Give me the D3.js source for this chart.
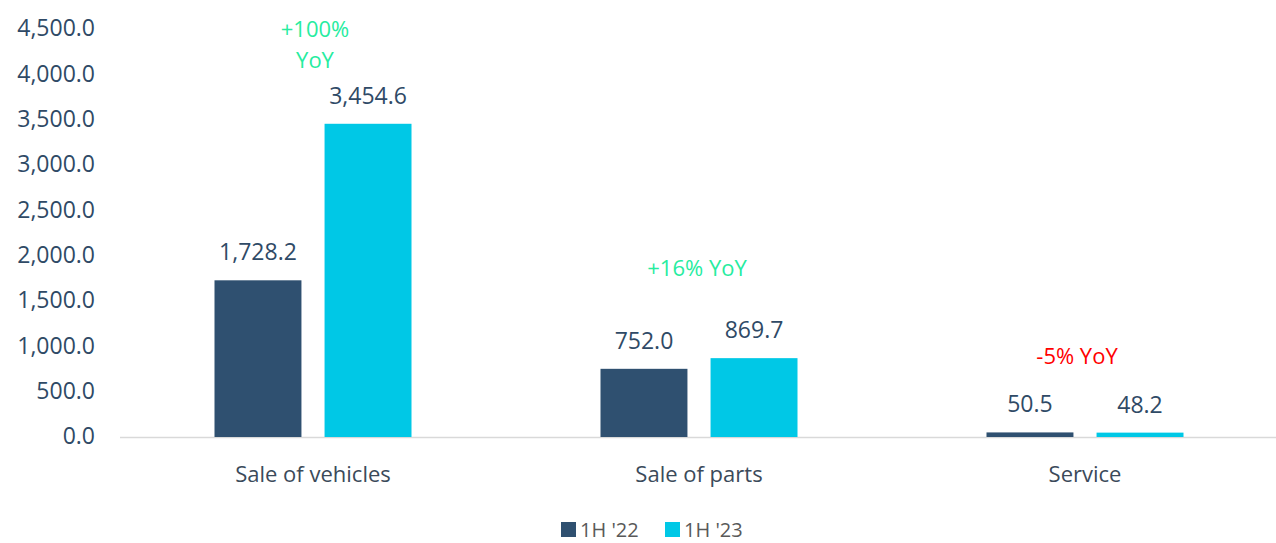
<!DOCTYPE html>
<html>
<head>
<meta charset="utf-8">
<script src="https://cdn.jsdelivr.net/npm/d3@7"></script>
<style>
  body { margin: 0; background: #fff; }
  svg { display: block; }
  svg text { font-family: "Open Sans", "Noto Sans", sans-serif; }
</style>
</head>
<body>
<svg id="chart"></svg>
<script>
const categories = ['Sale of vehicles', 'Sale of parts', 'Service'];
const series = ["1H '22", "1H '23"];
const values22 = [1728.2, 752.0, 50.5];
const values23 = [3454.6, 869.7, 48.2];
const yoyLabels = [['+100%', 'YoY'], ['+16% YoY'], ['-5% YoY']];
const yoyColors = ['#27ec9f', '#27ec9f', '#ff0000'];
const yTicks = [0, 500, 1000, 1500, 2000, 2500, 3000, 3500, 4000, 4500];

const width = 1276, height = 543;
const margin = {top: 29, right: 0, bottom: 106, left: 120};
const colors = ['#2f5070', '#00c8e6'];

const svg = d3.select('#chart').attr('width', width).attr('height', height);

const x0 = d3.scaleBand().domain(categories).range([margin.left, 1278]).paddingInner(0).paddingOuter(0);
const x1 = d3.scaleBand().domain(series).range([94.5, 386 - 94.5]).paddingInner(0.21);
const y = d3.scaleLinear().domain([0, 4500]).range([height - margin.bottom, margin.top]);

const fmt = d3.format(',.1f');

// y axis labels
const yAxis = d3.axisLeft(y).tickValues(yTicks).tickFormat(fmt).tickSize(0).tickPadding(0);
const yg = svg.append('g').attr('transform', 'translate(95,0)').call(yAxis);
yg.select('.domain').remove();
yg.selectAll('text').attr('fill', '#2f4a66').style('font-size', '23px').attr('dy', '0.3em');

// baseline
svg.append('line')
  .attr('x1', margin.left).attr('x2', width)
  .attr('y1', y(0) + 0.5).attr('y2', y(0) + 0.5)
  .attr('stroke', '#d9d9d9').attr('stroke-width', 1.5);

const rows = categories.map((c, i) => ({cat: c, vals: [values22[i], values23[i]]}));

const groups = svg.append('g').selectAll('g')
  .data(rows).join('g')
  .attr('transform', d => `translate(${x0(d.cat)},0)`);

groups.selectAll('rect')
  .data(d => d.vals.map((v, j) => ({s: series[j], v, j})))
  .join('rect')
  .attr('x', d => x1(d.s))
  .attr('width', x1.bandwidth())
  .attr('y', d => y(d.v))
  .attr('height', d => y(0) - y(d.v))
  .attr('fill', d => colors[d.j]);

groups.selectAll('text.val')
  .data(d => d.vals.map((v, j) => ({s: series[j], v, j})))
  .join('text')
  .attr('class', 'val')
  .attr('x', d => x1(d.s) + x1.bandwidth() / 2)
  .attr('y', d => y(d.v) - 20)
  .attr('text-anchor', 'middle')
  .attr('fill', '#2f4a66')
  .style('font-size', '23px')
  .text(d => fmt(d.v));

// YoY annotations, offset above the taller bar of each group
const yoyGap = [56, 82, 68];
const yoyShift = [2, -2, -8];
const lineGap = 31;
groups.each(function(d, i) {
  const top = y(d3.max(d.vals));
  const lines = yoyLabels[i];
  const cx = x0.bandwidth() / 2 + yoyShift[i];
  const firstY = top - yoyGap[i] - (lines.length - 1) * lineGap;
  const t = d3.select(this).append('text')
    .attr('x', cx)
    .attr('y', firstY)
    .attr('text-anchor', 'middle')
    .attr('fill', yoyColors[i])
    .style('font-size', '22px');
  lines.forEach((s, k) => {
    t.append('tspan')
      .attr('x', cx)
      .attr('dy', k === 0 ? 0 : lineGap)
      .text(s);
  });
});

// category labels
svg.append('g').selectAll('text')
  .data(categories).join('text')
  .attr('x', d => x0(d) + x0.bandwidth() / 2)
  .attr('y', 482)
  .attr('text-anchor', 'middle')
  .attr('fill', '#3b4a5a')
  .style('font-size', '22px')
  .text(d => d);

// legend
const legend = svg.append('g').attr('transform', 'translate(561,0)');
const lx = [0, 104];
series.forEach((s, j) => {
  legend.append('rect')
    .attr('x', lx[j]).attr('y', 522)
    .attr('width', 15).attr('height', 15)
    .attr('fill', colors[j]);
  legend.append('text')
    .attr('x', lx[j] + 19).attr('y', 537)
    .attr('fill', '#595959')
    .style('font-size', '20px')
    .text(s);
});
</script>
</body>
</html>
